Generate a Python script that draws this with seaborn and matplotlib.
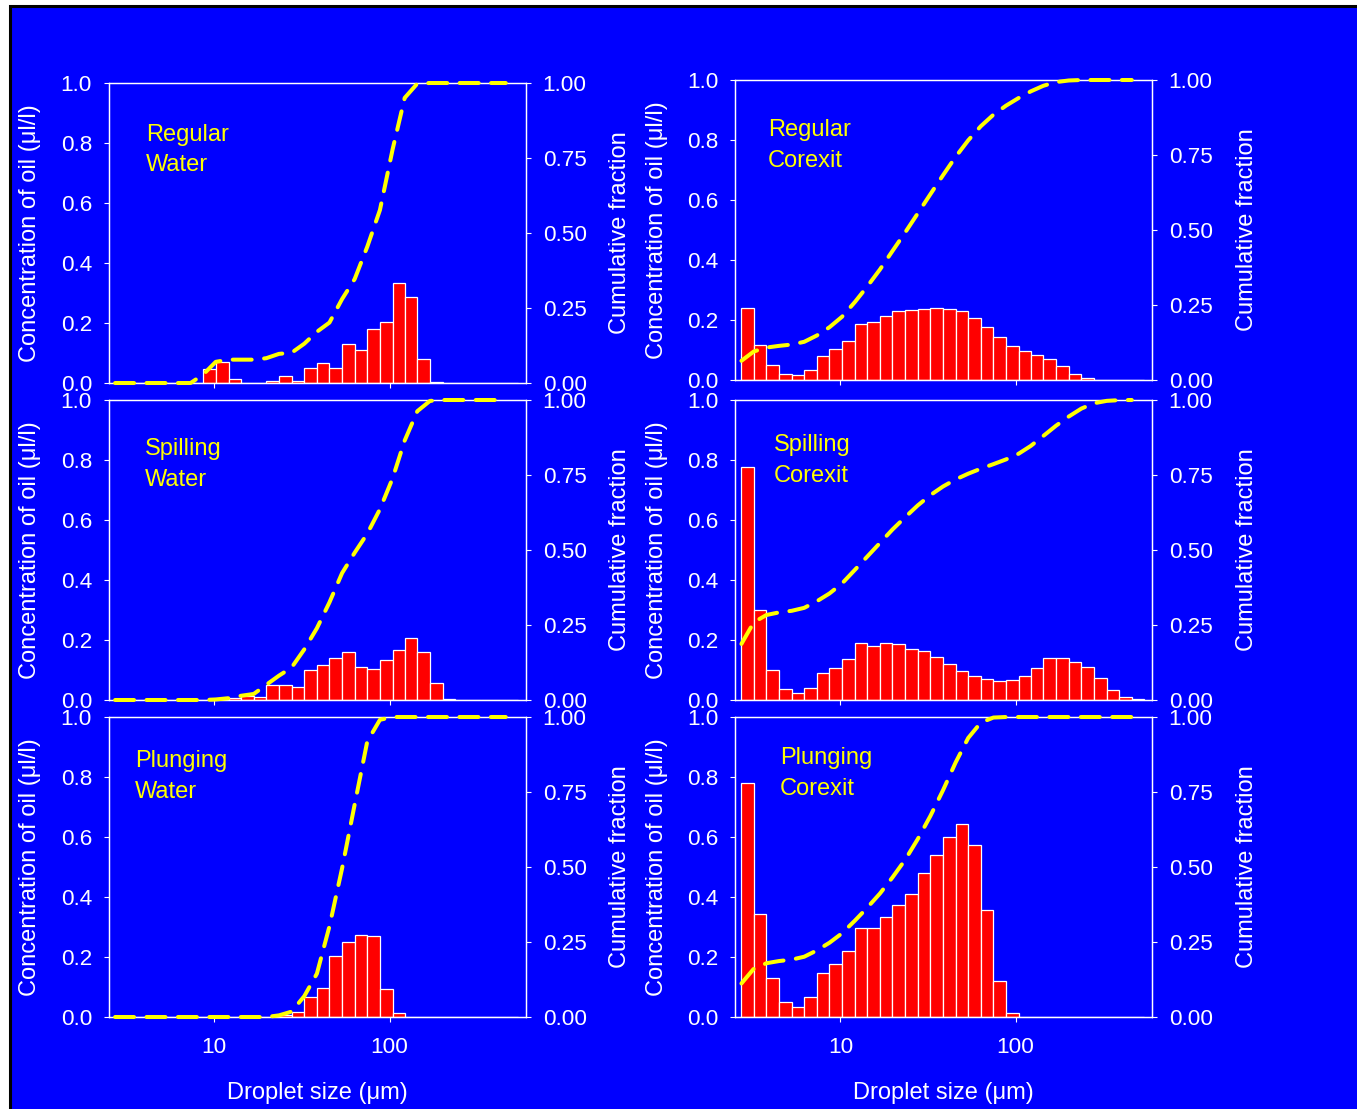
import numpy as np
import matplotlib
matplotlib.use("Agg")
import matplotlib.pyplot as plt
from matplotlib.patches import Rectangle
from matplotlib.ticker import FixedLocator, NullLocator, FormatStrFormatter
import seaborn as sns

# Droplet size classes (µm); each bar runs from one class to the next
size_um = [2.72, 3.20, 3.78, 4.46, 5.27, 6.21, 7.33, 8.65, 10.2, 12.1, 14.2,
           16.8, 19.8, 23.4, 27.6, 32.6, 38.5, 45.4, 53.6, 63.2, 74.6, 88.1,
           104, 122, 144, 170, 201, 237, 280, 331, 390, 460]
size_top_um = 543

# Concentration of oil (µl/l) in each size class
regular_water = [0, 0, 0, 0, 0, 0, 0, 0.047, 0.070, 0.012, 0, 0, 0.008, 0.024,
                 0.006, 0.050, 0.066, 0.051, 0.130, 0.110, 0.179, 0.203, 0.334,
                 0.286, 0.079, 0.003, 0, 0, 0, 0, 0, 0]
regular_corexit = [0.240, 0.117, 0.049, 0.021, 0.017, 0.034, 0.079, 0.103,
                   0.131, 0.186, 0.192, 0.214, 0.231, 0.232, 0.238, 0.241,
                   0.238, 0.229, 0.207, 0.176, 0.144, 0.114, 0.096, 0.083,
                   0.070, 0.046, 0.020, 0.006, 0, 0, 0, 0]
spilling_water = [0, 0, 0, 0, 0, 0, 0, 0, 0.003, 0.007, 0.013, 0.010, 0.050,
                  0.050, 0.044, 0.099, 0.116, 0.141, 0.160, 0.111, 0.104, 0.134,
                  0.168, 0.207, 0.160, 0.056, 0.005, 0, 0, 0, 0, 0]
spilling_corexit = [0.777, 0.300, 0.101, 0.036, 0.022, 0.041, 0.091, 0.108,
                    0.138, 0.191, 0.181, 0.190, 0.186, 0.171, 0.163, 0.143,
                    0.120, 0.097, 0.080, 0.069, 0.063, 0.066, 0.079, 0.108,
                    0.139, 0.141, 0.127, 0.110, 0.074, 0.033, 0.010, 0.002]
plunging_water = [0, 0, 0, 0, 0, 0, 0, 0, 0, 0, 0, 0, 0, 0.007, 0.016, 0.066,
                  0.097, 0.203, 0.249, 0.273, 0.271, 0.093, 0.012, 0, 0, 0, 0,
                  0, 0, 0, 0, 0]
plunging_corexit = [0.780, 0.343, 0.129, 0.050, 0.034, 0.067, 0.147, 0.178,
                    0.220, 0.297, 0.297, 0.332, 0.374, 0.411, 0.480, 0.540,
                    0.600, 0.643, 0.572, 0.356, 0.119, 0.013, 0, 0, 0, 0, 0,
                    0, 0, 0, 0, 0]

panel_names = [("Regular", "Water"), ("Regular", "Corexit"),
               ("Spilling", "Water"), ("Spilling", "Corexit"),
               ("Plunging", "Water"), ("Plunging", "Corexit")]
panel_values = [regular_water, regular_corexit, spilling_water,
                spilling_corexit, plunging_water, plunging_corexit]

conc_ticks = [0.0, 0.2, 0.4, 0.6, 0.8, 1.0]
frac_ticks = [0.0, 0.25, 0.5, 0.75, 1.0]
size_ticks = [10, 100]

BLUE = "#0000FF"
RED = "#FF0000"
YELLOW = "#FFFF00"
TICK_FS = 16.2
LABEL_FS = 17

sns.set_style("ticks")
plt.rcParams["font.family"] = ["Liberation Sans", "DejaVu Sans"]
plt.rcParams["axes.unicode_minus"] = False

W, H = 1357, 1109
fig = plt.figure(figsize=(W / 100, H / 100), dpi=100, facecolor="white")
fig.add_artist(Rectangle((10 / W, -0.05), 1.2, 1.05 - 6 / H,
                         transform=fig.transFigure, facecolor=BLUE,
                         edgecolor="black", linewidth=2.2, zorder=-10))

# axes boxes in pixels: (left, right, top, bottom)
boxes = [(108.7, 526, 83, 383), (735, 1152, 80, 380),
         (108.7, 526, 400, 700), (735, 1152, 400, 700),
         (108.7, 526, 717, 1017), (735, 1152, 717, 1017)]
# label anchors: (x frac, first-line y frac, second-line y frac)
name_pos = [(0.089, 0.807, 0.707), (0.079, 0.813, 0.710),
            (0.087, 0.817, 0.713), (0.094, 0.830, 0.727),
            (0.063, 0.833, 0.730), (0.108, 0.843, 0.740)]
# label centres in pixels for the left and right columns
left_label_x = {108.7: 30, 735: 657}
right_label_x = {108.7: 620, 735: 1247}

widths = np.diff(np.array(size_um + [size_top_um]))

for i, (vals, names, box, npos) in enumerate(zip(panel_values, panel_names,
                                                 boxes, name_pos)):
    l, r, t, b = box
    ax = fig.add_axes([l / W, 1 - b / H, (r - l) / W, (b - t) / H])
    ax.set_facecolor("none")
    ax.set_xscale("log")

    ax.bar(size_um, vals, width=widths, align="edge", color=RED,
           edgecolor="white", linewidth=0.9, zorder=2)

    ax.set_xlim(2.5, 600)
    ax.set_ylim(0, 1)
    ax.xaxis.set_major_locator(FixedLocator(size_ticks))
    ax.xaxis.set_minor_locator(NullLocator())
    ax.xaxis.set_major_formatter(FormatStrFormatter("%d"))
    ax.yaxis.set_major_locator(FixedLocator(conc_ticks))
    ax.yaxis.set_major_formatter(FormatStrFormatter("%.1f"))
    ax.tick_params(axis="both", which="major", direction="out", length=3.6,
                   width=0.8, color="white", labelcolor="white",
                   labelsize=TICK_FS)
    ax.tick_params(axis="y", pad=8.4)
    ax.tick_params(axis="x", pad=10.5)
    if i < 4:
        ax.tick_params(axis="x", labelbottom=False)
    else:
        ax.set_xlabel("Droplet size (\u03bcm)", color="white",
                      fontsize=LABEL_FS, va="center")
        ax.xaxis.set_label_coords(0.5, -0.253)
    for sp in ax.spines.values():
        sp.set_color("white")
        sp.set_linewidth(0.9)
    ax.set_ylabel("Concentration of oil (\u03bcl/l)", color="white",
                  fontsize=LABEL_FS, va="center")
    ax.yaxis.set_label_coords((left_label_x[l] - l) / (r - l), 0.5)

    ax.text(npos[0], npos[1], names[0], transform=ax.transAxes,
            color=YELLOW, fontsize=LABEL_FS, ha="left", va="baseline",
            zorder=5)
    ax.text(npos[0], npos[2], names[1], transform=ax.transAxes,
            color=YELLOW, fontsize=LABEL_FS, ha="left", va="baseline",
            zorder=5)

    # cumulative volume fraction on the right-hand axis
    cum = np.cumsum(vals) / np.sum(vals)
    ax2 = ax.twinx()
    sns.lineplot(x=size_um, y=cum, ax=ax2, color=YELLOW, linewidth=2.9,
                 linestyle=(0, (4.7, 3.1)), dash_capstyle="round",
                 clip_on=False, zorder=3)
    ax2.set_xlim(2.5, 600)
    ax2.set_ylim(0, 1)
    ax2.yaxis.set_major_locator(FixedLocator(frac_ticks))
    ax2.yaxis.set_major_formatter(FormatStrFormatter("%.2f"))
    ax2.tick_params(axis="y", direction="out", length=3.6, width=0.8,
                    color="white", labelcolor="white", labelsize=TICK_FS,
                    pad=8.4)
    for sp in ax2.spines.values():
        sp.set_color("white")
        sp.set_linewidth(0.9)
    ax2.set_ylabel("Cumulative fraction", color="white", fontsize=LABEL_FS,
                   va="center")
    ax2.yaxis.set_label_coords((right_label_x[l] - l) / (r - l), 0.5)
    ax2.set_xlabel("")

fig.savefig("out.png", dpi=100, facecolor=fig.get_facecolor())
